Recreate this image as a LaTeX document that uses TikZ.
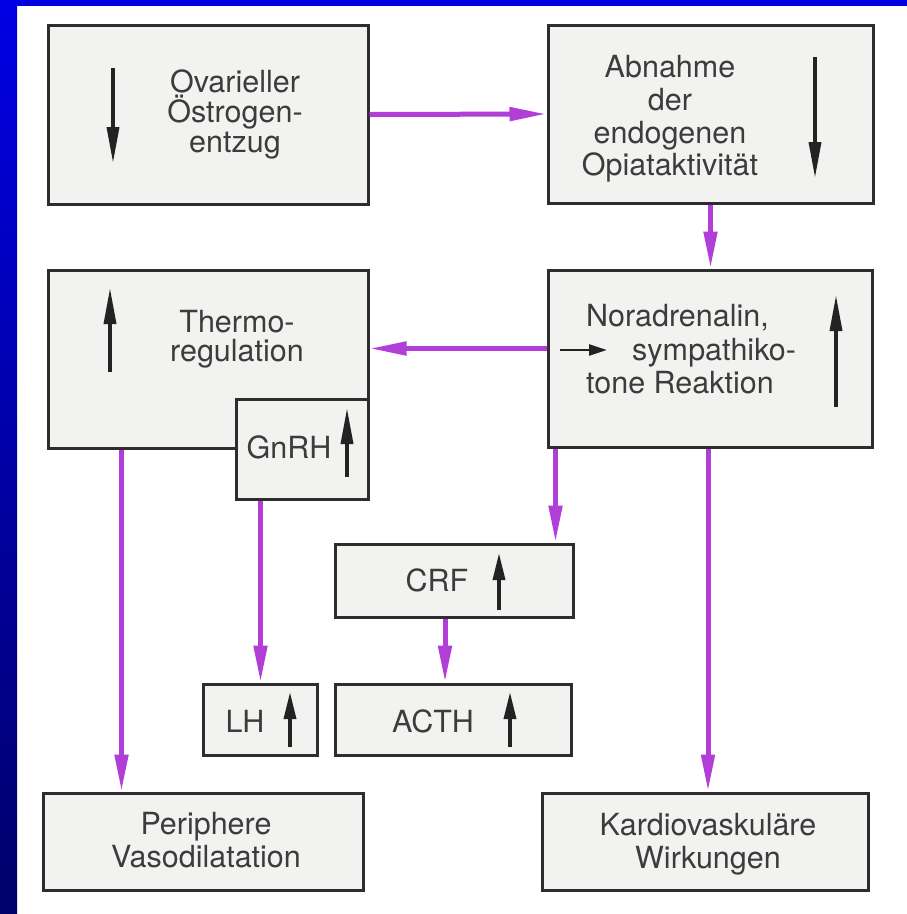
\documentclass[tikz,border=0pt]{standalone}
\usepackage{fontspec}
\setmainfont{TeX Gyre Heros}
\usetikzlibrary{arrows.meta}
\definecolor{pur}{RGB}{178,62,216}
\definecolor{boxfill}{RGB}{242,242,240}
\definecolor{boxline}{RGB}{45,45,45}
\definecolor{txtcol}{RGB}{60,60,60}
\definecolor{signcol}{RGB}{35,35,35}
\definecolor{bluetop}{RGB}{0,0,228}
\definecolor{bluebot}{RGB}{0,0,105}
\tikzset{
  box/.style={draw=boxline, line width=3pt, fill=boxfill, inner sep=0pt},
  txt/.style={text=txtcol, inner sep=0pt, font=\fontsize{30.5}{#1}\selectfont, align=center},
  txt/.default=31,
  flow/.style={draw=pur, line width=5pt, -{Triangle[length=37pt,width=13pt]}},
  sign/.style={draw=signcol, line width=3.5pt, -{Triangle[length=36pt,width=12pt]}},
  smallsign/.style={draw=signcol, line width=3.5pt, -{Triangle[length=27pt,width=12pt]}},
  tinysign/.style={draw=signcol, line width=2.5pt, -{Triangle[length=18pt,width=11pt]}}
}
\begin{document}
\begin{tikzpicture}[x=1pt,y=-1pt]
\useasboundingbox (0,0) rectangle (907,914);
% background and blue frame
\fill[white] (0,0) rectangle (907,914);
\shade[top color=bluetop, bottom color=bluebot] (0,0) rectangle (17,914);
\fill[bluetop] (0,0) rectangle (907,6);

% boxes
\node[box, minimum width=320pt, minimum height=179pt] (ovar) at (208,114.5) {};
\node[box, minimum width=325pt, minimum height=178pt] (abn) at (710.5,114) {};
\node[box, minimum width=320pt, minimum height=178pt] (thermo) at (208,359) {};
\node[box, minimum width=132pt, minimum height=100pt] (gnrh) at (302,449) {};
\node[box, minimum width=324pt, minimum height=177pt] (norad) at (710,358.5) {};
\node[box, minimum width=238pt, minimum height=73pt] (crf) at (454,580.5) {};
\node[box, minimum width=114pt, minimum height=71pt] (lh) at (260,719.5) {};
\node[box, minimum width=236pt, minimum height=71pt] (acth) at (453,719.5) {};
\node[box, minimum width=320pt, minimum height=97pt] (peri) at (203,841.5) {};
\node[box, minimum width=326pt, minimum height=97pt] (kardio) at (705,841.5) {};

% texts
\node[txt=30] (t-ovar) at (235,114.2) {Ovarieller\\Östrogen-\\entzug};
\node[txt=32.7] (t-abn) at (670,119) {Abnahme\\der\\endogenen\\Opiataktivität};
\node[txt=29] (t-thermo) at (237,338.7) {Thermo-\\regulation};
\node[txt, anchor=base] (t-gnrh) at (289,458) {GnRH};
\node[txt=33.5, align=left, anchor=west] (t-norad) at (586,349.5) {Noradrenalin,\\\hspace*{46pt}sympathiko-\\tone Reaktion};
\node[txt, anchor=base] (t-crf) at (437,591) {CRF};
\node[txt, anchor=base] (t-lh) at (245,732) {LH};
\node[txt, anchor=base] (t-acth) at (433,732) {ACTH};
\node[txt=33] (t-peri) at (206,840.5) {Periphere\\Vasodilatation};
\node[txt=33] (t-kardio) at (708,843.7) {Kardiovaskuläre\\Wirkungen};

% up/down signs inside boxes
\draw[sign] (113,68) -- (113,163);
\draw[sign] (815,57) -- (815,178);
\draw[sign] (110,372) -- (110,288);
\draw[sign] (347,477) -- (347,408);
\draw[sign] (836,407) -- (836,295);
\draw[tinysign] (560,350) -- (607,350);
\draw[smallsign] (499,610) -- (499,553);
\draw[smallsign] (510,747) -- (510,692);
\draw[smallsign] (290,747) -- (290,692);

% connectors
\draw[flow] (ovar.east) -- (abn.west);
\draw[flow] (abn.south) -- (abn.south |- norad.north);
\coordinate (nw) at ([yshift=10pt]norad.west);
\draw[flow] (nw) -- (nw -| thermo.east);
\coordinate (ncrf) at ([xshift=9pt]norad.south west);
\draw[flow] (ncrf) -- (ncrf |- crf.north);
\coordinate (nk) at ([xshift=-2pt]norad.south);
\draw[flow] (nk) -- (nk |- kardio.north);
\coordinate (tp) at ([xshift=75pt]thermo.south west);
\draw[flow] (tp) -- (tp |- peri.north);
\coordinate (gl) at ([xshift=26pt]gnrh.south west);
\draw[flow] (gl) -- (gl |- lh.north);
\coordinate (ca) at ([xshift=-9pt]crf.south);
\draw[flow] (ca) -- (ca |- acth.north);
\end{tikzpicture}
\end{document}
